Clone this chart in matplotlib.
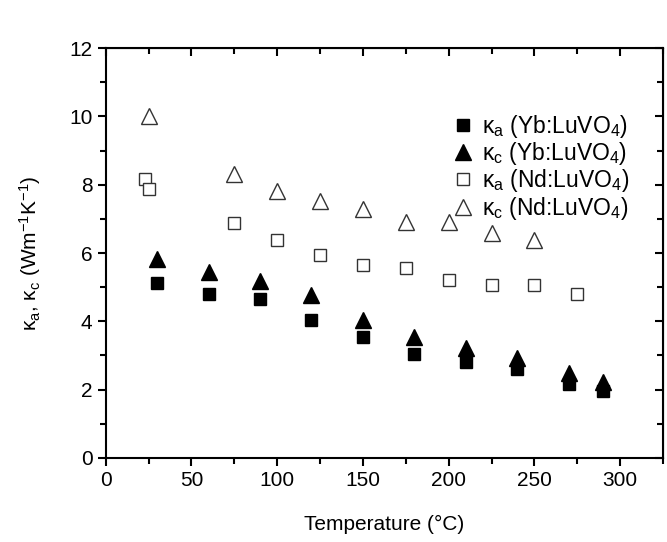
import matplotlib
matplotlib.use("Agg")
import matplotlib.pyplot as plt
from matplotlib.ticker import MultipleLocator

plt.rcParams['font.family'] = ['Liberation Sans', 'DejaVu Sans']
plt.rcParams['mathtext.default'] = 'regular'

# Yb:LuVO4 data
yb_temp = [30, 60, 90, 120, 150, 180, 210, 240, 270, 290]
yb_ka = [5.13, 4.80, 4.65, 4.04, 3.54, 3.04, 2.82, 2.60, 2.17, 1.95]
yb_kc = [5.82, 5.45, 5.18, 4.77, 4.04, 3.55, 3.22, 2.93, 2.49, 2.22]

# Nd:LuVO4 data
nd_ka_temp = [23, 25, 75, 100, 125, 150, 175, 200, 225, 250, 275]
nd_ka = [8.16, 7.87, 6.88, 6.38, 5.94, 5.65, 5.56, 5.21, 5.06, 5.06, 4.80]
nd_kc_temp = [25, 75, 100, 125, 150, 175, 200, 225, 250]
nd_kc = [10.0, 8.31, 7.82, 7.52, 7.29, 6.90, 6.90, 6.60, 6.38]

labels = [u"κ$_a$ (Yb:LuVO$_4$)", u"κ$_c$ (Yb:LuVO$_4$)",
          u"κ$_a$ (Nd:LuVO$_4$)", u"κ$_c$ (Nd:LuVO$_4$)"]

fig = plt.figure(figsize=(6.67, 5.42), dpi=100)
ax = fig.add_axes([0.1585, 0.155, 0.994 - 0.1585, 0.9114 - 0.155])

ax.plot(yb_temp, yb_ka, 's', color='black', ms=9, label=labels[0], zorder=3)
ax.plot(yb_temp, yb_kc, '^', color='black', ms=11, label=labels[1], zorder=4)
ax.plot(nd_ka_temp, nd_ka, 's', mfc='white', mec='#333333', mew=1.0, ms=9,
        label=labels[2])
ax.plot(nd_kc_temp, nd_kc, '^', mfc='white', mec='#333333', mew=1.0, ms=11,
        label=labels[3])

ax.set_xlim(0, 325)
ax.set_ylim(0, 12)
ax.xaxis.set_major_locator(MultipleLocator(50))
ax.xaxis.set_minor_locator(MultipleLocator(25))
ax.yaxis.set_major_locator(MultipleLocator(2))
ax.yaxis.set_minor_locator(MultipleLocator(1))

for s in ax.spines.values():
    s.set_linewidth(1.5)

ax.tick_params(which='major', direction='out', length=6, width=1.5, labelsize=15)
ax.tick_params(which='minor', direction='out', length=4, width=1.5)

# inward ticks on top and right
top = ax.secondary_xaxis('top')
top.xaxis.set_major_locator(MultipleLocator(50))
top.xaxis.set_minor_locator(MultipleLocator(25))
top.tick_params(which='major', direction='in', length=6, width=1.5, labeltop=False)
top.tick_params(which='minor', direction='in', length=4, width=1.5)
right = ax.secondary_yaxis('right')
right.yaxis.set_major_locator(MultipleLocator(2))
right.yaxis.set_minor_locator(MultipleLocator(1))
right.tick_params(which='major', direction='in', length=6, width=1.5, labelright=False)
right.tick_params(which='minor', direction='in', length=4, width=1.5)

ax.set_xlabel(u"Temperature (°C)", fontsize=15, labelpad=18)
ax.set_ylabel(u"κ$_a$, κ$_c$ (Wm$^{-1}$K$^{-1}$)", fontsize=15, labelpad=19)

ax.legend(loc='upper right', bbox_to_anchor=(0.955, 0.865), frameon=False,
          fontsize=16.5, handletextpad=0.2, labelspacing=0.02, handlelength=1.2,
          borderaxespad=0)

fig.savefig("out.png", dpi=100)
